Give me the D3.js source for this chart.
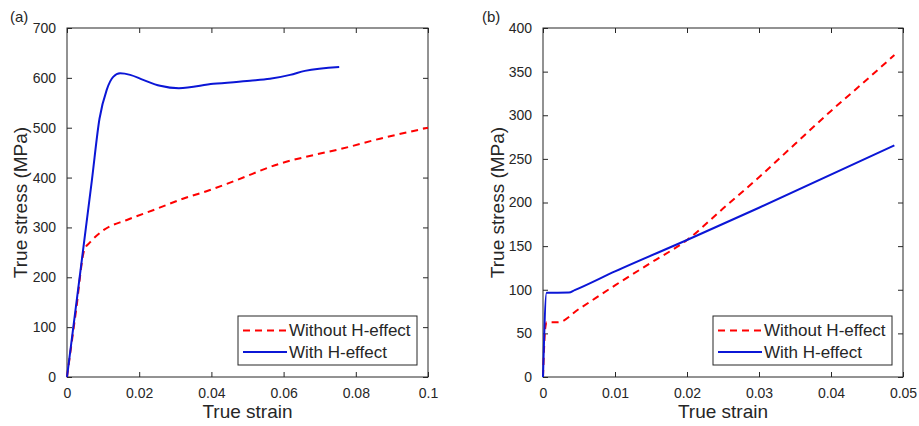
<!DOCTYPE html>
<html><head>
<meta charset="utf-8">
<script src="https://d3js.org/d3.v7.min.js"></script>
<style>
  body { margin: 0; background: #fff; }
  svg text { font-family: "Liberation Sans", Arial, sans-serif; fill: #262626; }
  .axis .domain { display: none; }
  .axis line { stroke: #262626; }
</style>
</head>
<body>
<svg id="chart" width="919" height="426"></svg>
<script>
// ---- data ----
// panel (a)
const strainWithA  = [0, 0.0035, 0.0069, 0.009, 0.011, 0.0128, 0.0147, 0.0175, 0.0211, 0.0258, 0.0310, 0.0405, 0.0507, 0.0562, 0.0618, 0.0659, 0.0754];
const stressWithA  = [0, 200, 395, 518, 576, 602, 609, 606, 596, 584, 579, 588, 594, 598, 606, 614, 622];
const strainWithoutA = [0, 0.0025, 0.0048, 0.0065, 0.0102, 0.0166, 0.024, 0.0323, 0.0396, 0.047, 0.059, 0.0682, 0.0756, 0.0867, 0.1];
const stressWithoutA = [0, 133, 255, 271, 295, 315, 335, 358, 375, 395, 428, 445, 457, 478, 500];
const xTicksA = [0, 0.02, 0.04, 0.06, 0.08, 0.1];
const yTicksA = [0, 100, 200, 300, 400, 500, 600, 700];

// panel (b)
const strainWithB  = [0, 0.0005, 0.0036, 0.0044, 0.01, 0.02, 0.03, 0.0488];
const stressWithB  = [0, 96.5, 96.8, 99.5, 121, 157, 194, 265.5];
const strainWithoutB = [0, 0.0003, 0.0005, 0.0021, 0.005, 0.01, 0.015, 0.02, 0.025, 0.03, 0.035, 0.04, 0.045, 0.0488];
const stressWithoutB = [0, 55, 62.7, 62.7, 78, 105, 131, 157, 193, 229, 267, 305, 341, 369];
const xTicksB = [0, 0.01, 0.02, 0.03, 0.04, 0.05];
const yTicksB = [0, 50, 100, 150, 200, 250, 300, 350, 400];

const seriesNames = ["Without H-effect", "With H-effect"];

const svg = d3.select("svg#chart");

function drawPanel(p) {
  const w = p.right - p.left, h = p.bottom - p.top;
  const x = d3.scaleLinear().domain(p.xDomain).range([0, w]);
  const y = d3.scaleLinear().domain(p.yDomain).range([h, 0]);

  const g = svg.append("g").attr("transform", "translate(" + p.left + "," + p.top + ")");

  // inward ticks on all four sides, like matlab's box on
  g.append("g").attr("class", "axis").attr("transform", "translate(0," + h + ")")
    .call(d3.axisBottom(x).tickValues(p.xTicks).tickSizeInner(-5).tickSizeOuter(0).tickPadding(11).tickFormat(d => String(d)))
    .selectAll("text").style("font-size", "14px");
  g.append("g").attr("class", "axis")
    .call(d3.axisTop(x).tickValues(p.xTicks).tickSizeInner(-5).tickSizeOuter(0).tickFormat(""));
  g.append("g").attr("class", "axis")
    .call(d3.axisLeft(y).tickValues(p.yTicks).tickSizeInner(-5).tickSizeOuter(0).tickPadding(11).tickFormat(d => String(d)))
    .selectAll("text").style("font-size", "14px");
  g.append("g").attr("class", "axis").attr("transform", "translate(" + w + ",0)")
    .call(d3.axisRight(y).tickValues(p.yTicks).tickSizeInner(-5).tickSizeOuter(0).tickFormat(""));

  g.append("rect").attr("width", w).attr("height", h)
    .attr("fill", "none").attr("stroke", "#262626").attr("stroke-width", 1);

  const line = d3.line().x(d => x(d[0])).y(d => y(d[1])).curve(d3.curveMonotoneX);

  g.append("path").datum(d3.zip(p.withoutX, p.withoutY))
    .attr("d", line).attr("fill", "none").attr("stroke", "#ff0000")
    .attr("stroke-width", 2).attr("stroke-dasharray", "7,5");
  g.append("path").datum(d3.zip(p.withX, p.withY))
    .attr("d", line).attr("fill", "none").attr("stroke", "#0b16d6")
    .attr("stroke-width", 2);

  // axis labels
  svg.append("text").attr("x", p.left + w / 2).attr("y", 418)
    .attr("text-anchor", "middle").style("font-size", "19px").text("True strain");
  svg.append("text")
    .attr("transform", "translate(" + p.yLabelX + "," + (p.top + h / 2) + ") rotate(-90)")
    .attr("text-anchor", "middle").style("font-size", "19px").text("True stress (MPa)");
  svg.append("text").attr("x", p.tagX).attr("y", 22)
    .style("font-size", "15px").text(p.tag);

  // legend
  const lg = svg.append("g").attr("transform", "translate(" + p.legendX + ",316)");
  lg.append("rect").attr("width", 179).attr("height", 49)
    .attr("fill", "#fff").attr("stroke", "#262626").attr("stroke-width", 1);
  const rows = [
    {name: seriesNames[0], color: "#ff0000", dash: "7,5", yy: 14.5},
    {name: seriesNames[1], color: "#0b16d6", dash: null, yy: 36}
  ];
  rows.forEach(r => {
    lg.append("line").attr("x1", 5).attr("x2", 49).attr("y1", r.yy).attr("y2", r.yy)
      .attr("stroke", r.color).attr("stroke-width", 2).attr("stroke-dasharray", r.dash);
    lg.append("text").attr("x", 51).attr("y", r.yy).attr("dy", "0.35em")
      .style("font-size", "17px").text(r.name);
  });
}

drawPanel({
  left: 67, right: 428, top: 28, bottom: 377,
  xDomain: [0, 0.1], yDomain: [0, 700], xTicks: xTicksA, yTicks: yTicksA,
  withX: strainWithA, withY: stressWithA, withoutX: strainWithoutA, withoutY: stressWithoutA,
  yLabelX: 27, tag: "(a)", tagX: 10, legendX: 238
});

drawPanel({
  left: 543, right: 903, top: 28, bottom: 377,
  xDomain: [0, 0.05], yDomain: [0, 400], xTicks: xTicksB, yTicks: yTicksB,
  withX: strainWithB, withY: stressWithB, withoutX: strainWithoutB, withoutY: stressWithoutB,
  yLabelX: 504, tag: "(b)", tagX: 482, legendX: 713
});
</script>
</body>
</html>
